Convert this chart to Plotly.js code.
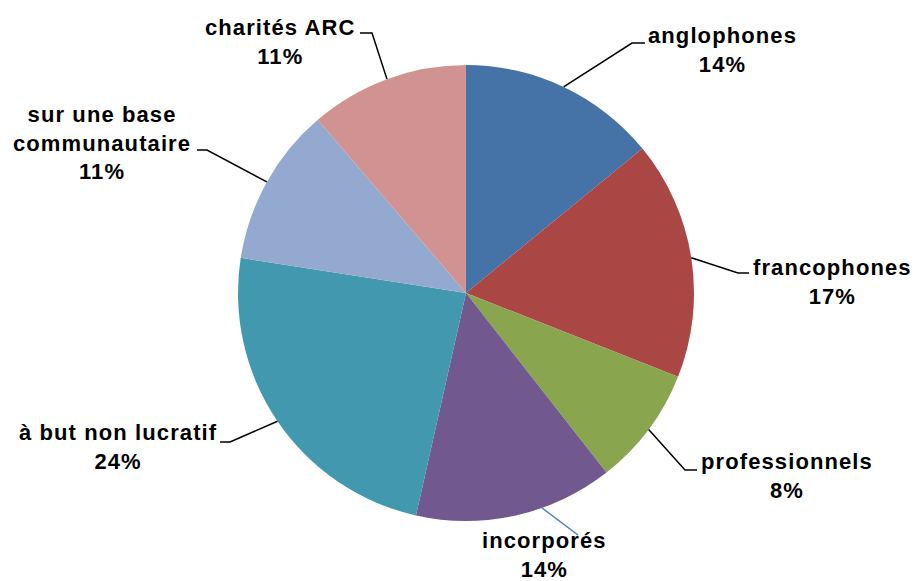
<!DOCTYPE html>
<html>
<head>
<meta charset="utf-8">
<script src="https://cdn.plot.ly/plotly-3.0.1.min.js"></script>
<style>
  html, body { margin: 0; padding: 0; background: #fff; }
  #chart { width: 915px; height: 581px; }
  .annotation-text { letter-spacing: 1.1px; }
</style>
</head>
<body>
<div id="chart"></div>
<script>
// ---- data ----
const categories = ['anglophones', 'francophones', 'professionnels', 'incorporés',
                    'à but non lucratif', 'sur une base communautaire', 'charités ARC'];
const counts = [10, 12, 6, 10, 17, 8, 8];
const labelText = ['anglophones', 'francophones', 'professionnels', 'incorporés',
                   'à but non lucratif', 'sur une base<br>communautaire', 'charités ARC'];
const colors = ['#4572A7', '#AA4643', '#89A54E', '#71588F', '#4198AF', '#94A9CF', '#D19392'];

// ---- layout geometry (pixels) ----
const W = 915, H = 581;
const cx = 466, cy = 293, R = 228;
// label placement: text centre, leader elbow and leader end (pixels); angle offset for leader start
const labelLayout = [
  {tx: 722, ty: 50,  elbow: [632, 43],  end: [645, 43],  dAng: 0,  color: '#000'},
  {tx: 832, ty: 282, elbow: [738, 273], end: [749, 273], dAng: 0,  color: '#000'},
  {tx: 787, ty: 476, elbow: [685, 470], end: [697, 470], dAng: 0,  color: '#000'},
  {tx: 544, ty: 555, elbow: null,       end: [578, 535], dAng: -6.8, color: '#4F81BD'},
  {tx: 118, ty: 447, elbow: [230, 442], end: [220, 442], dAng: 0,  color: '#000'},
  {tx: 102, ty: 143, elbow: [207, 150], end: [197, 150], dAng: 0,  color: '#000'},
  {tx: 280, ty: 42,  elbow: [372, 33],  end: [360, 33],  dAng: 0,  color: '#000'}
];

const px = x => x / W;
const py = y => 1 - y / H;

const total = counts.reduce((a, b) => a + b, 0);
const annotations = [];
const shapes = [];
let cum = 0;
counts.forEach((v, i) => {
  const midFrac = (cum + v / 2) / total;
  cum += v;
  const L = labelLayout[i];
  const ang = (midFrac * 360 + L.dAng) * Math.PI / 180;
  const sx = cx + R * Math.sin(ang);
  const sy = cy - R * Math.cos(ang);
  const pts = [[sx, sy]];
  if (L.elbow) pts.push(L.elbow);
  pts.push(L.end);
  const path = pts.map((p, k) => (k ? 'L ' : 'M ') + px(p[0]) + ' ' + py(p[1])).join(' ');
  shapes.push({type: 'path', xref: 'paper', yref: 'paper', path: path,
               line: {color: L.color, width: 1.5}});
  const pct = Math.round(v / total * 100) + '%';
  annotations.push({
    xref: 'paper', yref: 'paper', x: px(L.tx), y: py(L.ty),
    xanchor: 'center', yanchor: 'middle', align: 'center', showarrow: false,
    text: '<b>' + labelText[i] + '<br>' + pct + '</b>',
    font: {family: 'Liberation Sans, Arial, sans-serif', size: 22, color: '#000'}
  });
});

const trace = {
  type: 'pie',
  labels: categories,
  values: counts,
  sort: false,
  direction: 'clockwise',
  rotation: 0,
  textinfo: 'none',
  hoverinfo: 'label+percent',
  marker: {colors: colors, line: {width: 0}},
  domain: {x: [px(cx - R), px(cx + R)], y: [py(cy + R), py(cy - R)]},
  showlegend: false
};

const layout = {
  width: W, height: H,
  margin: {l: 0, r: 0, t: 0, b: 0},
  paper_bgcolor: '#fff',
  showlegend: false,
  annotations: annotations,
  shapes: shapes
};

Plotly.newPlot('chart', [trace], layout, {staticPlot: true});
</script>
</body>
</html>
